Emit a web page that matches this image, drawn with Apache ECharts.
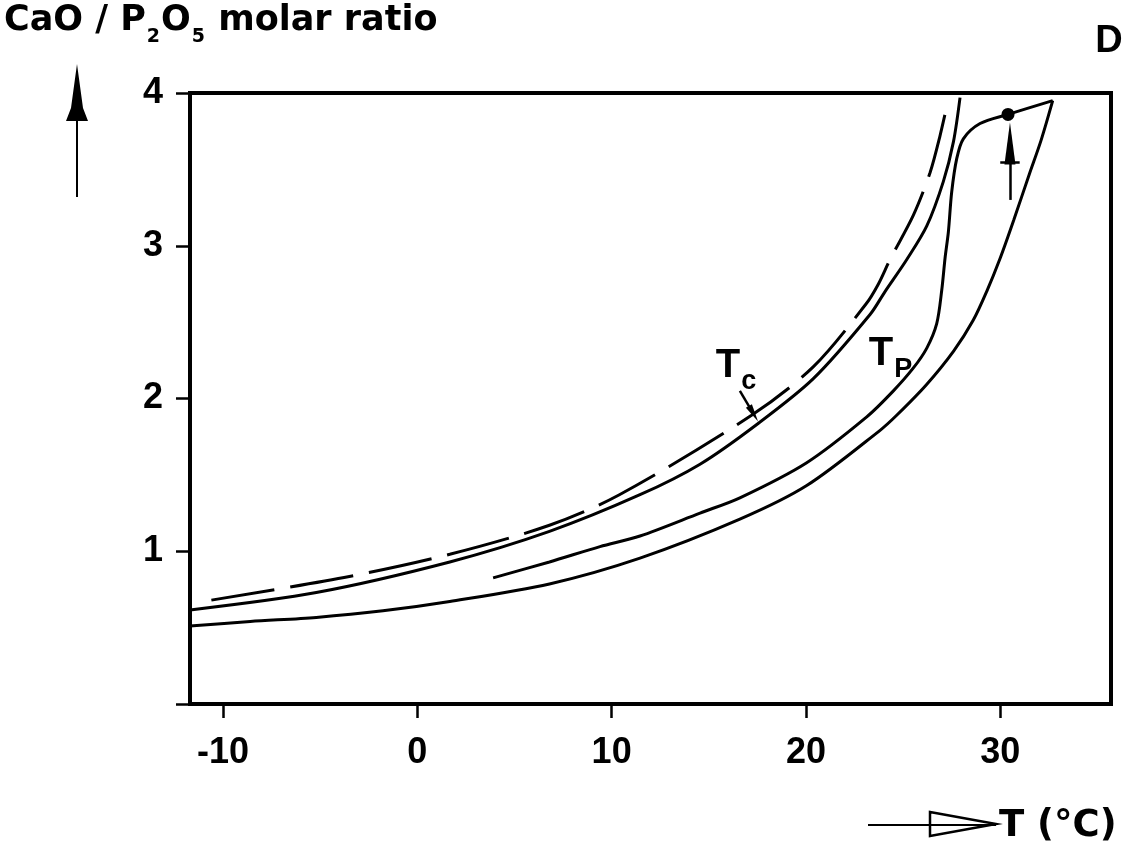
<!DOCTYPE html>
<html>
<head>
<meta charset="utf-8">
<script src="https://cdn.jsdelivr.net/npm/echarts@6/dist/echarts.min.js"></script>
<style>
html,body{margin:0;padding:0;background:#fff;}
#chart{width:1125px;height:848px;}
</style>
</head>
<body>
<div id="chart"></div>
<script>
// ---- Data ----
const xTicks = [-10, 0, 10, 20, 30];
const yTicks = [0, 1, 2, 3, 4];
const yLabelValues = [1, 2, 3, 4];

// dashed curve (T_c, upper)
const tcDashed = [[-10.6,0.68],[-3.5,0.835],[1.67,0.98],[6.8,1.17],[10.4,1.37],[17.2,1.89],[20.4,2.21],[23.1,2.62],[23.73,2.75],[24.33,2.91],[25.53,3.20],[26.39,3.48],[26.9,3.72],[27.33,3.96]];
// solid curve (T_c)
const tcSolid = [[-11.7,0.616],[-5.2,0.73],[1.67,0.93],[6.8,1.13],[11.46,1.37],[14.55,1.57],[17.47,1.83],[20.38,2.13],[23.3,2.55],[24.07,2.70],[25.19,2.91],[26.22,3.13],[27.07,3.42],[27.59,3.68],[27.93,3.97]];
// T_p curve
const tpCurve = [[3.9,0.826],[6.8,0.93],[9.4,1.03],[11.46,1.10],[14.55,1.25],[16.6,1.35],[20.04,1.58],[23.13,1.88],[24.5,2.05],[25.53,2.20],[26.22,2.33],[26.73,2.49],[26.99,2.71],[27.16,2.92],[27.33,3.09],[27.5,3.35],[27.76,3.57],[28.1,3.70],[28.96,3.80],[30.4,3.86],[32.7,3.95]];
// lowest curve
const lowerCurve = [[-11.7,0.51],[-8.6,0.54],[-5.2,0.567],[-1.77,0.61],[1.67,0.671],[6.8,0.786],[11.46,0.955],[16.6,1.21],[20.04,1.43],[23.8,1.79],[24.67,1.89],[26.2,2.09],[27.6,2.31],[28.6,2.51],[29.3,2.70],[30.0,2.92],[30.7,3.17],[31.5,3.47],[32.1,3.69],[32.7,3.95]];

const markedPoint = [[30.4, 3.86]];
const pointerArrow = [[30.5, 3.30], [30.5, 3.67]];
const pointerBar = [[30.0, 3.545], [31.0, 3.545]];
const tcLeader = [[16.6, 2.05], [17.3, 1.90]];
const curveLabels = [[16.4, 2.21, 'c'], [24.35, 2.29, 'P']];

// ---- Chart ----
const FONT = '"Liberation Sans", Arial, Helvetica, sans-serif';
const WIDE = '"DejaVu Sans", "Liberation Sans", sans-serif';
const chart = echarts.init(document.getElementById('chart'), null, {renderer: 'canvas'});

const baseLine = {
  type: 'line', symbol: 'none', showSymbol: false, silent: true,
  smooth: 0.3, animation: false,
  lineStyle: {color: '#000', width: 3}
};

const option = {
  animation: false,
  backgroundColor: '#fff',
  title: {
    text: '{m|CaO / P}{s|2}{m|O}{s|5}{m| molar ratio}',
    left: 4, top: 3, padding: 0,
    textStyle: {
      rich: {
        m: {fontFamily: WIDE, fontWeight: 'bold', fontSize: 35, lineHeight: 35, color: '#000', verticalAlign: 'top'},
        s: {fontFamily: WIDE, fontWeight: 'bold', fontSize: 19, lineHeight: 19, color: '#000', verticalAlign: 'top', padding: [25, 1, 0, 1]}
      }
    }
  },
  grid: {left: 190, right: 14, top: 93, bottom: 144, show: true, borderColor: '#000', borderWidth: 4, outerBoundsMode: 'none'},
  xAxis: {
    type: 'value', min: -11.7, max: 35.7,
    axisLine: {show: true, onZero: false, lineStyle: {color: '#000', width: 4}},
    axisTick: {show: true, customValues: xTicks, length: 14, lineStyle: {color: '#000', width: 2.5}},
    axisLabel: {customValues: xTicks, margin: 31, color: '#000', fontSize: 36, fontWeight: 'bold', fontFamily: FONT},
    splitLine: {show: false}
  },
  yAxis: {
    type: 'value', min: 0, max: 4,
    axisLine: {show: true, onZero: false, lineStyle: {color: '#000', width: 4}},
    axisTick: {show: true, customValues: yTicks, length: 14, lineStyle: {color: '#000', width: 2.5}},
    axisLabel: {customValues: yLabelValues, margin: 27, color: '#000', fontSize: 36, fontWeight: 'bold', fontFamily: FONT},
    splitLine: {show: false}
  },
  series: [
    Object.assign({}, baseLine, {name: 'Tc dashed', data: tcDashed, lineStyle: {color: '#000', width: 3, type: [64, 16]}}),
    Object.assign({}, baseLine, {name: 'Tc', data: tcSolid,
      markLine: {
        silent: true, animation: false,
        label: {show: false},
        lineStyle: {color: '#000', width: 2.5, type: 'solid'},
        data: [
          [{coord: tcLeader[0], symbol: 'none'}, {coord: tcLeader[1], symbol: 'triangle', symbolSize: [7, 18]}]
        ]
      }
    }),
    Object.assign({}, baseLine, {name: 'Tp', data: tpCurve}),
    Object.assign({}, baseLine, {name: 'lower', data: lowerCurve}),
    {
      type: 'scatter', name: 'point', data: markedPoint, symbol: 'circle', symbolSize: 13,
      itemStyle: {color: '#000', opacity: 1}, silent: true, animation: false,
      markLine: {
        silent: true, animation: false,
        label: {show: false},
        lineStyle: {color: '#000', width: 2.5, type: 'solid', opacity: 1},
        data: [
          [{coord: pointerArrow[0], symbol: 'none'}, {coord: pointerArrow[1], symbol: 'triangle', symbolSize: [11, 42]}],
          [{coord: pointerBar[0], symbol: 'none'}, {coord: pointerBar[1], symbol: 'none'}]
        ]
      }
    },
    {
      type: 'scatter', name: 'labels', data: curveLabels, symbolSize: 1,
      itemStyle: {color: 'rgba(0,0,0,0)'}, silent: true, animation: false,
      label: {
        show: true, position: 'inside', opacity: 1,
        formatter: p => '{t|T}{s|' + p.value[2] + '}',
        rich: {
          t: {fontFamily: FONT, fontWeight: 'bold', fontSize: 40, lineHeight: 40, color: '#000', verticalAlign: 'top'},
          s: {fontFamily: FONT, fontWeight: 'bold', fontSize: 27, lineHeight: 27, color: '#000', verticalAlign: 'top', padding: [22, 0, 0, 1]}
        }
      }
    }
  ],
  graphic: [
    // vertical arrow beside y title
    {type: 'line', shape: {x1: 77, y1: 118, x2: 77, y2: 197}, style: {stroke: '#000', lineWidth: 2}, silent: true},
    {type: 'polygon', shape: {points: [[77, 64], [83, 108], [88, 121], [66, 121], [71, 108]]}, style: {fill: '#000'}, silent: true},
    // horizontal arrow before x title
    {type: 'polygon', shape: {points: [[930, 812], [996, 824], [930, 836]]}, style: {fill: '#fff', stroke: '#000', lineWidth: 2.5}, silent: true},
    {type: 'line', shape: {x1: 868, y1: 825, x2: 996, y2: 825}, style: {stroke: '#000', lineWidth: 2}, silent: true},
    {type: 'text', x: 999, y: 826, style: {text: 'T (°C)', font: 'bold 37px "DejaVu Sans", sans-serif', fill: '#000', verticalAlign: 'middle', align: 'left'}, silent: true},
    {type: 'text', x: 1109, y: 42, style: {text: 'D', font: 'bold 38px "Liberation Sans", Arial, sans-serif', fill: '#000', verticalAlign: 'middle', align: 'center'}, silent: true}
  ]
};
chart.setOption(option);
</script>
</body>
</html>
